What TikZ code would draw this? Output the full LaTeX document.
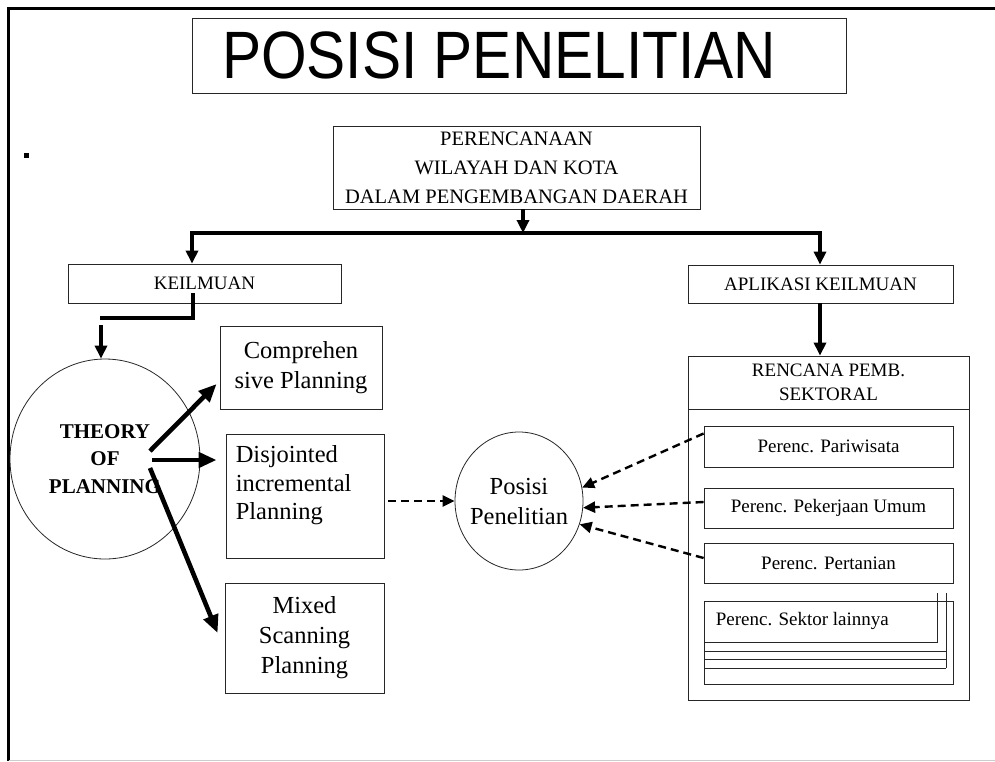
\documentclass[tikz,border=0pt]{standalone}
\usepackage{fontspec}
\setmainfont{Liberation Serif}
\newfontfamily\headfont{Liberation Sans}
\usetikzlibrary{arrows.meta,shapes.geometric}

\begin{document}
\begin{tikzpicture}[x=1pt,y=-1pt,
  box/.style={draw=black!85, line width=0.8pt, rectangle, inner sep=0pt, align=center},
  oval/.style={draw=black!85, line width=0.8pt, ellipse, inner sep=0pt, align=center},
  bus/.style={line width=3.6pt, line join=miter},
  busarrow/.style={bus, -{Triangle[length=13pt,width=12pt]}},
  fatarrow/.style={line width=4.6pt, -{Triangle[length=18pt,width=15pt]}},
  dasharrow/.style={line width=2.4pt, dash pattern=on 8pt off 5pt, -{Triangle[length=12pt,width=11pt]}},
  sheet/.style={draw=black!85, line width=0.8pt},
  fsmall/.style={font=\fontsize{19}{22}\selectfont},
  fmid/.style={font=\fontsize{19}{24}\selectfont},
  fbig/.style={font=\fontsize{24.5}{30}\selectfont},
]
\useasboundingbox (0,0) rectangle (995,761);

% page frame
\draw[line width=3pt] (8.5,761) -- (8.5,8) -- (995,8);
\draw[black!20, line width=1pt] (8.5,760) -- (995,760);

% title
\node[box, minimum width=654pt, minimum height=75pt,
      font=\headfont\fontsize{67}{67}\selectfont] (title) at (519,55.5)
      {\scalebox{0.875}[1]{POSISI PENELITIAN}\hspace{40pt}};

% stray dot
\fill (23.5,152.5) rectangle (28.5,157.5);

% top level
\node[box, minimum width=367pt, minimum height=83pt,
      font=\fontsize{20.5}{29}\selectfont] (top) at (516.5,167.5)
      {PERENCANAAN\\WILAYAH DAN KOTA\\DALAM PENGEMBANGAN DAERAH};

\node[box, fsmall, minimum width=273pt, minimum height=39pt] (keil) at (204.5,283.5) {KEILMUAN};
\node[box, fsmall, minimum width=265pt, minimum height=38pt] (apl) at (820.5,284) {APLIKASI KEILMUAN};

% bus from the top box
\coordinate (busM) at (523,233);
\coordinate (busL) at (192,233);
\coordinate (busR) at (820,233);
\draw[busarrow] (top.south -| busM) -- (busM);
\draw[busarrow] (busM) -- (busL) -- (busL |- keil.north);
\draw[busarrow] (busM) -- (busR) -- (busR |- apl.north);

% theory of planning
\node[oval, minimum width=190pt, minimum height=200pt, inner sep=-20pt,
      font=\bfseries\fontsize{21}{27.5}\selectfont] (theory) at (105,459)
      {THEORY\\OF\\PLANNING};

\coordinate (k1) at (193,293);
\coordinate (k2) at (193,318);
\coordinate (k3) at (100,318);
\coordinate (k4) at (101,325);
\draw[bus] (k1) -- (k2) -- (k3);
\draw[busarrow] (k4) -- (k4 |- theory.north);

% planning approaches
\node[box, fbig, minimum width=162pt, minimum height=83pt] (comp) at (301,367.5)
      {Comprehen\\sive Planning};
\node[box, minimum width=158pt, minimum height=124pt,
      label={[anchor=north west, xshift=10pt, yshift=-12pt, inner sep=0pt,
              align=left, font=\fontsize{24.5}{28.5}\selectfont]north west:Disjointed\\incremental\\Planning}]
      (disj) at (305,496) {};
\node[box, fbig, minimum width=159pt, minimum height=110pt] (mixed) at (304.5,638)
      {Mixed\\Scanning\\Planning};

\draw[fatarrow] ([shift={(45pt,8pt)}]theory.center) -- ([shift={(-3pt,-16.5pt)}]comp.west);
\draw[fatarrow] ([shift={(47pt,-1pt)}]theory.center) -- ([shift={(-9pt,36pt)}]disj.west);
\draw[fatarrow] ([shift={(45pt,-9pt)}]theory.center) -- ([shift={(-7pt,5pt)}]mixed.west);

% research position
\node[oval, fbig, minimum width=128pt, minimum height=138pt, inner sep=-14pt] (posisi) at (519,501)
      {Posisi\\Penelitian};

% sectoral plans
\node[box, minimum width=281pt, minimum height=344pt] (sektor) at (828.5,528) {};
\node[box, fmid, minimum width=281pt, minimum height=53pt] (renc) at (828.5,382.5)
      {RENCANA PEMB.\\SEKTORAL};
\draw[busarrow] (apl.south -| busR) -- (renc.north -| busR);

\node[box, fmid, minimum width=249pt, minimum height=41pt] (pari) at (828.5,446.5) {Perenc. Pariwisata};
\node[box, fmid, minimum width=249pt, minimum height=40pt] (pu) at (828.5,508) {Perenc. Pekerjaan Umum};
\node[box, fmid, minimum width=249pt, minimum height=40pt] (pert) at (828.5,563) {Perenc. Pertanian};
\node[box, minimum width=249pt, minimum height=83pt,
      label={[anchor=base west, xshift=12pt, yshift=-25pt, inner sep=0pt,
              font=\fontsize{19}{24}\selectfont]north west:Perenc. Sektor lainnya}]
      (lain) at (828.5,642.5) {};

% stacked sheets behind the last sector
\draw[sheet] (704,642) -- (937,642) -- (937,593);
\draw[sheet] (946,593) -- (946,668);
\draw[sheet] (704,651) -- (946,651);
\draw[sheet] (704,659.5) -- (946,659.5);
\draw[sheet] (704,668) -- (946,668);

% dashed links into the research position
\draw[dasharrow] ([shift={(4pt,-5pt)}]disj.east) -- (posisi.west);
\draw[dasharrow] ([yshift=13pt]pari.west) -- (posisi.12);
\draw[dasharrow] ([yshift=6pt]pu.west) -- (posisi.-6);
\draw[dasharrow] ([yshift=5pt]pert.west) -- (posisi.-21);
\end{tikzpicture}
\end{document}
